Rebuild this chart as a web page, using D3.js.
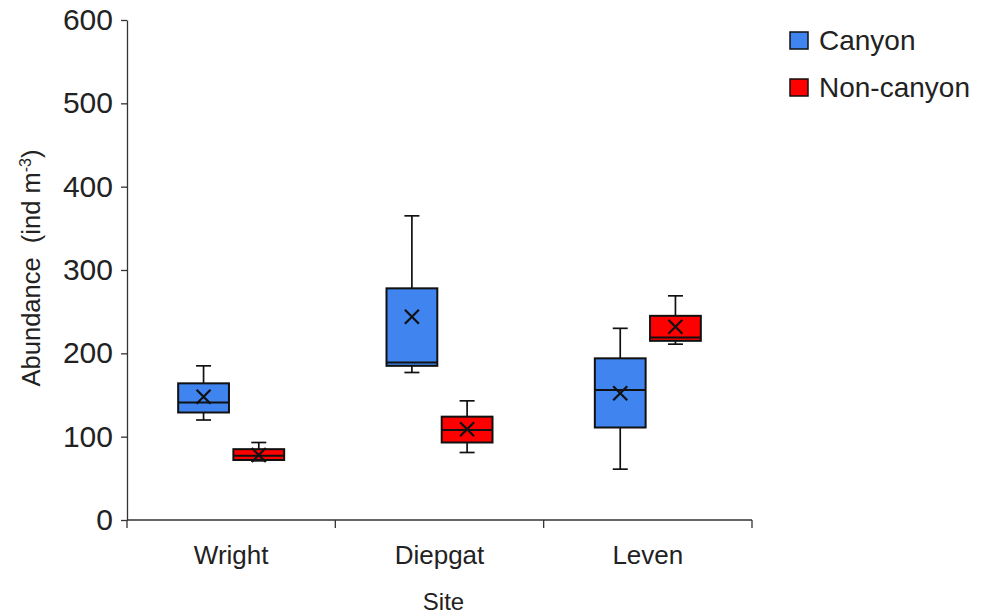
<!DOCTYPE html>
<html>
<head>
    <title>Abundance by Site</title>
    <script src="https://d3js.org/d3.v7.min.js"></script>
    <style>
        body { margin: 0; background: #fff; }
        text { font-family: "Liberation Sans", Arial, sans-serif; fill: #222; }
        .axis path, .axis line { stroke: #333; stroke-width: 1.3; }
        .y-axis text { font-size: 30px; }
        .x-axis text { font-size: 26px; }
        .axis-label { font-size: 24px; }
        .y-label { font-size: 25.5px; }
        .legend text { font-size: 28px; }
    </style>
</head>
<body>
    <svg width="985" height="614"></svg>
    <script>
        var sites = ["Wright", "Diepgat", "Leven"];
        var groups = ["Canyon", "Non-canyon"];
        var yTicks = [0, 100, 200, 300, 400, 500, 600];

        // [min, q1, median, q3, max, mean] per site
        var canyonStats = [
            [120, 129, 141, 164, 185, 148],
            [177, 185, 189, 278, 365, 244],
            [61, 111, 156, 194, 230, 152]
        ];
        var nonCanyonStats = [
            [71, 72, 77, 85, 93, 78],
            [81, 93, 108, 124, 143, 109],
            [211, 215, 219, 245, 269, 232]
        ];

        var svg = d3.select("svg"),
            margin = {top: 20, right: 233, bottom: 94, left: 127},
            width = +svg.attr("width") - margin.left - margin.right,
            height = +svg.attr("height") - margin.top - margin.bottom;

        var x0 = d3.scaleBand().domain(sites).range([0, width]);
        var x1 = d3.scaleBand().domain(groups).range([x0.bandwidth() / 2 - 53, x0.bandwidth() / 2 + 53]).paddingInner(0.08);
        var y = d3.scaleLinear().domain([0, 600]).range([height, 0]);
        var color = d3.scaleOrdinal().domain(groups).range(["#3f84ef", "#ff0000"]);

        var g = svg.append("g").attr("transform", "translate(" + margin.left + "," + margin.top + ")");

        // axes
        g.append("g")
            .attr("class", "axis y-axis")
            .call(d3.axisLeft(y).tickValues(yTicks).tickSize(6).tickSizeOuter(0).tickPadding(8));

        var xAxis = g.append("g")
            .attr("class", "axis x-axis")
            .attr("transform", "translate(0," + height + ")");
        xAxis.append("line").attr("x1", 0).attr("x2", width);
        xAxis.selectAll(".sep")
            .data(d3.range(sites.length + 1))
            .enter().append("line")
            .attr("x1", d => d * x0.step())
            .attr("x2", d => d * x0.step())
            .attr("y1", 0).attr("y2", 8);
        xAxis.selectAll(".lbl")
            .data(sites)
            .enter().append("text")
            .attr("x", d => x0(d) + x0.bandwidth() / 2)
            .attr("y", 44)
            .attr("text-anchor", "middle")
            .text(d => d);

        g.append("text")
            .attr("class", "axis-label")
            .attr("x", x0.range()[1] / 2 + 4)
            .attr("y", height + 90)
            .attr("text-anchor", "middle")
            .text("Site");

        var yl = g.append("text")
            .attr("class", "y-label")
            .attr("transform", "translate(-87," + (height / 2 - 2) + ") rotate(-90)")
            .attr("text-anchor", "middle");
        yl.append("tspan").text("Abundance\u00a0 (ind m");
        yl.append("tspan").attr("dy", -9).attr("font-size", 16).text("-3");
        yl.append("tspan").attr("dy", 9).text(")");

        // boxes
        var boxData = [];
        sites.forEach(function(site, i) {
            boxData.push({site: site, group: "Canyon", s: canyonStats[i]});
            boxData.push({site: site, group: "Non-canyon", s: nonCanyonStats[i]});
        });

        var capW = 15, xSize = 7;
        var box = g.selectAll(".box")
            .data(boxData)
            .enter().append("g")
            .attr("class", "box")
            .attr("transform", d => "translate(" + (x0(d.site) + x1(d.group)) + ",0)");

        var bw = x1.bandwidth(), cx = bw / 2;

        box.append("line")
            .attr("x1", cx).attr("x2", cx)
            .attr("y1", d => y(d.s[4])).attr("y2", d => y(d.s[0]))
            .attr("stroke", "#111").attr("stroke-width", 1.7);
        box.append("line")
            .attr("x1", cx - capW / 2).attr("x2", cx + capW / 2)
            .attr("y1", d => y(d.s[4])).attr("y2", d => y(d.s[4]))
            .attr("stroke", "#111").attr("stroke-width", 1.7);
        box.append("line")
            .attr("x1", cx - capW / 2).attr("x2", cx + capW / 2)
            .attr("y1", d => y(d.s[0])).attr("y2", d => y(d.s[0]))
            .attr("stroke", "#111").attr("stroke-width", 1.7);
        box.append("rect")
            .attr("x", 0).attr("width", bw)
            .attr("y", d => y(d.s[3]))
            .attr("height", d => y(d.s[1]) - y(d.s[3]))
            .attr("fill", d => color(d.group))
            .attr("stroke", "#111").attr("stroke-width", 2);
        box.append("line")
            .attr("x1", 0).attr("x2", bw)
            .attr("y1", d => y(d.s[2])).attr("y2", d => y(d.s[2]))
            .attr("stroke", "#111").attr("stroke-width", 2);
        box.append("path")
            .attr("d", d => {
                var my = y(d.s[5]);
                return "M" + (cx - xSize) + "," + (my - xSize) + "L" + (cx + xSize) + "," + (my + xSize) +
                    "M" + (cx + xSize) + "," + (my - xSize) + "L" + (cx - xSize) + "," + (my + xSize);
            })
            .attr("stroke", "#111").attr("stroke-width", 2.2);

        // legend
        var legend = svg.append("g")
            .attr("class", "legend")
            .attr("transform", "translate(790,32)")
            .selectAll("g")
            .data(groups)
            .enter().append("g")
            .attr("transform", (d, i) => "translate(0," + i * 47 + ")");

        legend.append("rect")
            .attr("width", 18).attr("height", 17)
            .attr("fill", color)
            .attr("stroke", "#111").attr("stroke-width", 1.5);

        legend.append("text")
            .attr("x", 29).attr("y", 18)
            .text(d => d);
    </script>
</body>
</html>
